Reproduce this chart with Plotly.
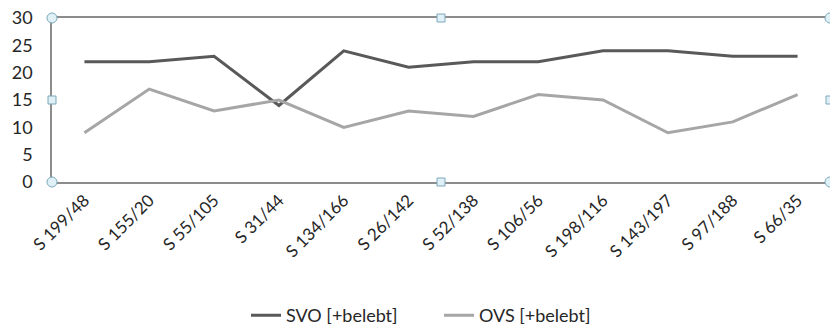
import plotly.graph_objects as go

categories = ["S 199/48", "S 155/20", "S 55/105", "S 31/44", "S 134/166", "S 26/142",
              "S 52/138", "S 106/56", "S 198/116", "S 143/197", "S 97/188", "S 66/35"]
svo = [22, 22, 23, 14, 24, 21, 22, 22, 24, 24, 23, 23]
ovs = [9, 17, 13, 15, 10, 13, 12, 16, 15, 9, 11, 16]
y_ticks = [0, 5, 10, 15, 20, 25, 30]

FONT = "Lato, Open Sans, sans-serif"

L, T, PW, PH = 52, 18, 778, 164
W, H = 830, 326

fig = go.Figure()
fig.add_trace(go.Scatter(x=categories, y=svo, mode="lines", name="SVO [+belebt]",
                         line=dict(color="#595959", width=3)))
fig.add_trace(go.Scatter(x=categories, y=ovs, mode="lines", name="OVS [+belebt]",
                         line=dict(color="#a6a6a6", width=3)))

frame = "#8c8c8c"
fig.update_layout(
    width=W, height=H,
    margin=dict(l=L, r=W - L - PW, t=T, b=H - T - PH, autoexpand=False),
    paper_bgcolor="white", plot_bgcolor="white",
    font=dict(family=FONT, color="#262626", size=15),
    showlegend=True,
    legend=dict(orientation="h", x=(246 - L) / PW, xanchor="left", y=-0.815, yanchor="middle",
                font=dict(size=18, family=FONT, color="#262626"),
                entrywidth=148, entrywidthmode="pixels", tracegroupgap=0),
    xaxis=dict(type="category", showgrid=False, showline=True, linecolor=frame, linewidth=1.5,
               mirror=True, tickangle=-45, tickfont=dict(size=17, family=FONT),
               ticks="", range=[-0.5, 11.5], automargin=False),
    yaxis=dict(range=[0, 30], tickvals=y_ticks, showgrid=False, showline=True,
               linecolor=frame, linewidth=1.5, mirror=True, ticks="",
               tickfont=dict(size=18, family=FONT), ticklabelstandoff=14, zeroline=False,
               automargin=False, ticklabeloverflow="allow"),
)

# selection handles (decorative)
hfill = "#dff1f7"
hline = "#7fa8ba"
for (px, py, kind) in [(0, 1, "c"), (0, 0, "c"), (1, 1, "c"), (1, 0, "c"),
                       (0, 0.5, "s"), (0.5, 1, "s"), (0.5, 0, "s"), (1, 0.5, "s")]:
    rr = 5 if kind == "c" else 4
    fig.add_shape(type="circle" if kind == "c" else "rect", xref="paper", yref="paper",
                  x0=px - rr / PW, x1=px + rr / PW,
                  y0=py - rr / PH, y1=py + rr / PH,
                  fillcolor=hfill, line=dict(color=hline, width=1), layer="above")

fig.write_html("out.html", config={"displayModeBar": False},
               post_script="document.body.style.margin='0';document.body.style.overflow='hidden';")
